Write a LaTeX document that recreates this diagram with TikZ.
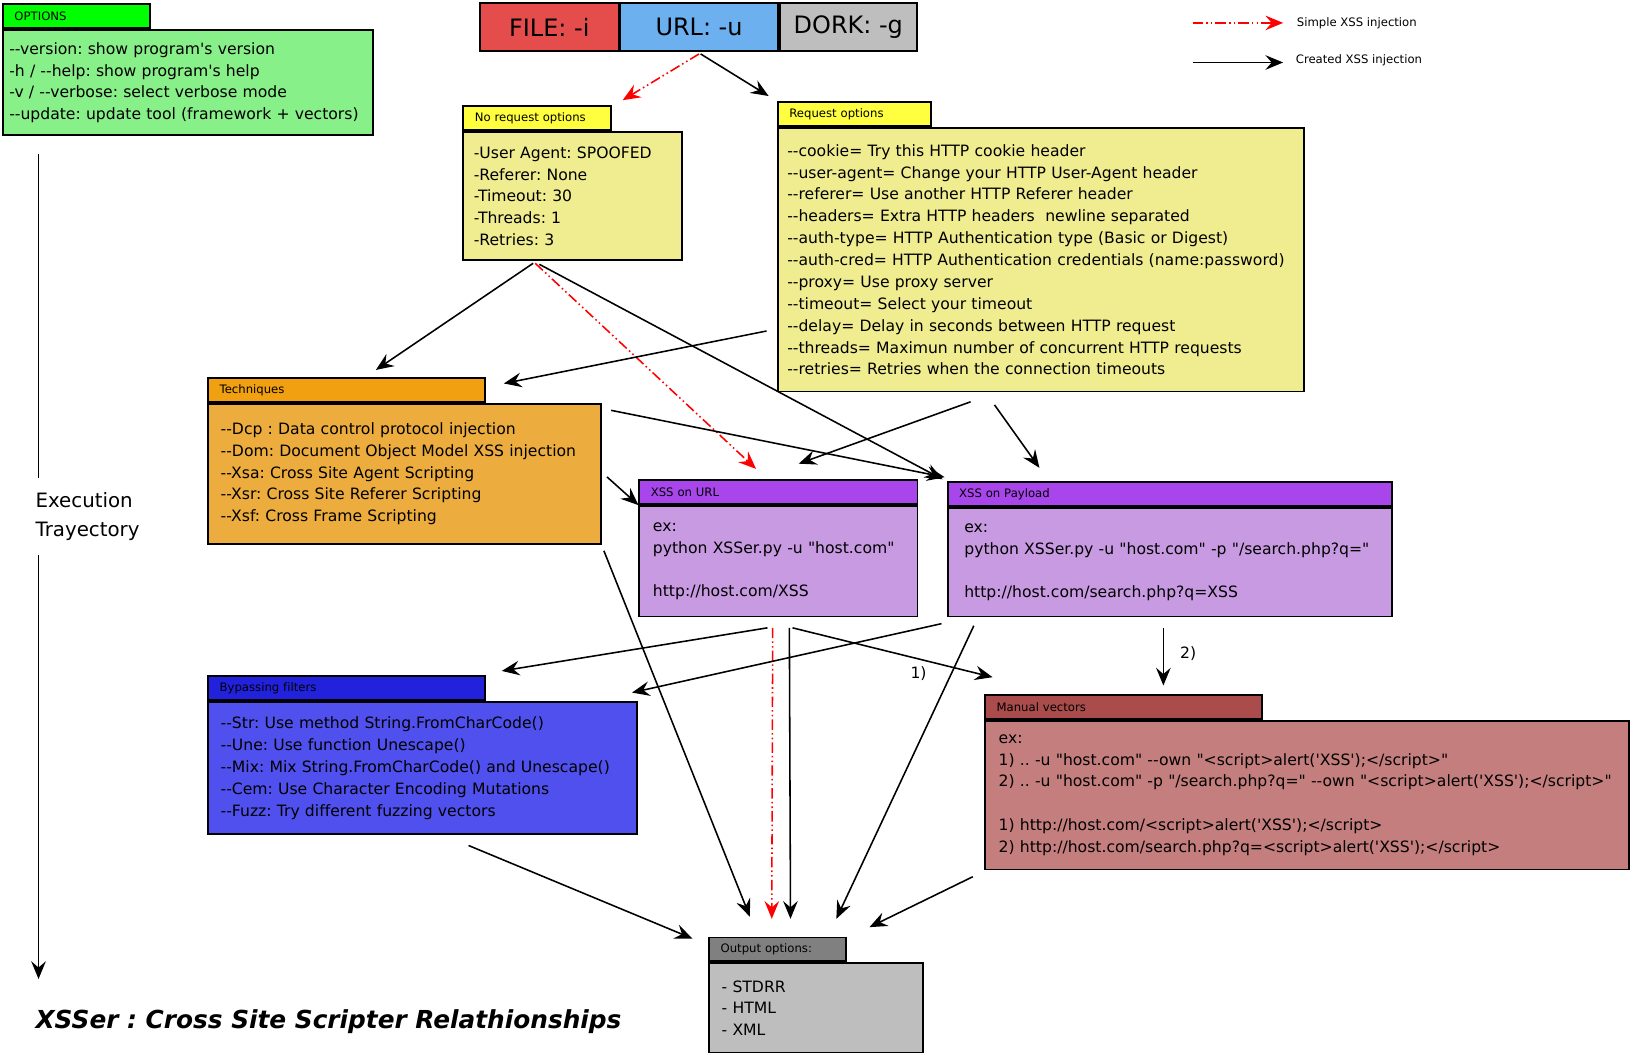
\documentclass[tikz,border=0pt]{standalone}
\usepackage{fontspec}
\newfontfamily\dejavu{DejaVu Sans}[Ligatures=NoCommon]
\usepackage{tikz}
\usetikzlibrary{arrows.meta, positioning}
\usepackage{xcolor}
\definecolor{optstab}{HTML}{00FF00}
\definecolor{optsbody}{HTML}{88F088}
\definecolor{filered}{HTML}{E54C4C}
\definecolor{urlblue}{HTML}{6CB0F0}
\definecolor{dorkgray}{HTML}{BEBEBE}
\definecolor{yeltab}{HTML}{FFFF40}
\definecolor{yelbody}{HTML}{F0EC90}
\definecolor{techtab}{HTML}{F0A010}
\definecolor{techbody}{HTML}{ECAD3E}
\definecolor{xsstab}{HTML}{A846EC}
\definecolor{xssbody}{HTML}{C89AE2}
\definecolor{bypasstab}{HTML}{2222DD}
\definecolor{bypassbody}{HTML}{5050EE}
\definecolor{mantab}{HTML}{AA4C4C}
\definecolor{manbody}{HTML}{C47E7E}
\definecolor{outtab}{HTML}{808080}
\definecolor{outbody}{HTML}{BEBEBE}
\frenchspacing

\begin{document}
\begin{tikzpicture}[x=1pt, y=-1pt,
    panel/.style={draw, line width=1.8pt, anchor=north west, align=left,
        inner ysep=0pt, font=\dejavu\fontsize{15}{21}\selectfont},
    tabbox/.style={draw, line width=1.8pt, anchor=south west, align=left,
        minimum height=23pt, inner ysep=0pt, inner xsep=11pt,
        font=\dejavu\fontsize{11.2}{13}\selectfont},
    topbox/.style={draw, line width=1.8pt, anchor=north west,
        minimum height=46pt, inner sep=0pt,
        font=\dejavu\fontsize{23}{26}\selectfont},
    flow/.style={line width=1.5pt, -{Stealth[length=17pt, width=14pt, inset=6pt]}},
    simple/.style={flow, red, dash pattern=on 10pt off 3pt on 1.5pt off 3pt on 1.5pt off 3pt},
    legend/.style={anchor=west, inner sep=0pt, font=\dejavu\fontsize{11.2}{13}\selectfont}]

    \useasboundingbox (0,0) rectangle (1566,1011);

    % options
    \node[panel, fill=optsbody, inner xsep=6pt, text width=343pt, minimum height=101pt] (opts) at (2,28)
        {--version: show program's version\\
         -h / --help: show program's help\\
         -v / --verbose: select verbose mode\\
         --update: update tool (framework + vectors)};
    \node[tabbox, fill=optstab, text width=119pt] (optstab) at (opts.north west) {OPTIONS};

    % targets
    \node[topbox, fill=filered, minimum width=133pt] (file) at (460,2) {FILE: -i};
    \node[topbox, fill=urlblue, minimum width=151pt] (url) at (file.north east) {URL: -u};
    \node[topbox, fill=dorkgray, minimum width=132pt] (dork) at (url.north east) {DORK: -g};

    % legend
    \node[legend] (simpletxt) at (1245,22) {Simple XSS injection};
    \node[legend] (createdtxt) at (1244,58) {Created XSS injection};
    \draw[simple] ([xshift=-100pt]simpletxt.west) -- ([xshift=-13pt]simpletxt.west);
    \draw[flow] ([xshift=-99pt,yshift=-2pt]createdtxt.west) -- ([xshift=-12pt,yshift=-2pt]createdtxt.west);

    % request options
    \node[panel, fill=yelbody, inner xsep=10pt, text width=190pt, minimum height=123pt] (noreq) at (444,126)
        {-User Agent: SPOOFED\\
         -Referer: None\\
         -Timeout: 30\\
         -Threads: 1\\
         -Retries: 3};
    \node[tabbox, fill=yeltab, text width=120pt] (noreqtab) at (noreq.north west) {No request options};

    \node[panel, fill=yelbody, inner xsep=9pt, text width=487pt, minimum height=253pt] (req) at (746,122)
        {--cookie= Try this HTTP cookie header\\
         --user-agent= Change your HTTP User-Agent header\\
         --referer= Use another HTTP Referer header\\
         --headers= Extra HTTP headers \ newline separated\\
         --auth-type= HTTP Authentication type (Basic or Digest)\\
         --auth-cred= HTTP Authentication credentials (name:password)\\
         --proxy= Use proxy server\\
         --timeout= Select your timeout\\
         --delay= Delay in seconds between HTTP request\\
         --threads= Maximun number of concurrent HTTP requests\\
         --retries= Retries when the connection timeouts};
    \node[tabbox, fill=yeltab, text width=125pt] (reqtab) at (req.north west) {Request options};

    % techniques
    \node[panel, fill=techbody, inner xsep=12pt, text width=353pt, minimum height=134pt] (tech) at (199,387)
        {--Dcp : Data control protocol injection\\
         --Dom: Document Object Model XSS injection\\
         --Xsa: Cross Site Agent Scripting\\
         --Xsr: Cross Site Referer Scripting\\
         --Xsf: Cross Frame Scripting};
    \node[tabbox, fill=techtab, text width=244pt] (techtab) at (tech.north west) {Techniques};

    % injection points
    \node[panel, fill=xssbody, inner xsep=13pt, text width=241pt, minimum height=106pt] (xurl) at (613,485)
        {ex:\\
         python XSSer.py -u "host.com"\\
         \mbox{}\\
         http://host.com/XSS};
    \node[tabbox, fill=xsstab, text width=245pt] (xurltab) at (xurl.north west) {XSS on URL};

    \node[panel, fill=xssbody, inner xsep=16pt, text width=395pt, minimum height=104pt] (xpay) at (909,487)
        {ex:\\
         python XSSer.py -u "host.com" -p "/search.php?q="\\
         \mbox{}\\
         http://host.com/search.php?q=XSS\\[6pt]};
    \node[tabbox, fill=xsstab, text width=405pt] (xpaytab) at (xpay.north west) {XSS on Payload};

    % bypassing
    \node[panel, fill=bypassbody, inner xsep=12pt, text width=388pt, minimum height=127pt] (bypass) at (199,673)
        {--Str: Use method String.FromCharCode()\\
         --Une: Use function Unescape()\\
         --Mix: Mix String.FromCharCode() and Unescape()\\
         --Cem: Use Character Encoding Mutations\\
         --Fuzz: Try different fuzzing vectors};
    \node[tabbox, fill=bypasstab, text width=244pt] (bypasstab) at (bypass.north west) {Bypassing filters};

    % manual vectors
    \node[panel, fill=manbody, inner xsep=13pt, text width=592pt, minimum height=143pt] (manual) at (945,691)
        {ex:\\
         1) .. -u "host.com" --own "<script>alert('XSS');</script>"\\
         2) .. -u "host.com" -p "/search.php?q=" --own "<script>alert('XSS');</script>"\\
         \mbox{}\\
         1) http://host.com/<script>alert('XSS');</script>\\
         2) http://host.com/search.php?q=<script>alert('XSS');</script>};
    \node[tabbox, fill=mantab, text width=244pt] (mantab) at (manual.north west) {Manual vectors};

    % output
    \node[panel, fill=outbody, inner xsep=12pt, text width=181pt, minimum height=86pt] (output) at (680,924)
        {- STDRR\\
         - HTML\\
         - XML};
    \node[tabbox, fill=outtab, text width=109pt] (outtab) at (output.north west) {Output options:};

    % trajectory
    \node[anchor=west, align=left, inner sep=0pt, minimum height=74pt,
        font=\dejavu\fontsize{19}{27}\selectfont] (exec) at (34,496) {Execution\\Trayectory};
    \coordinate (trajtop) at (37,148);
    \coordinate (trajend) at (37,940);
    \draw[line width=1.5pt] (trajtop) -- (trajtop |- exec.north);
    \draw[flow] (trajtop |- exec.south) -- (trajend);

    \node[anchor=west, inner sep=0pt, font=\dejavu\bfseries\itshape\fontsize{23.8}{28}\selectfont] (title) at (34,981)
        {XSSer : Cross Site Scripter Relathionships};

    % connectors
    \draw[simple] ([yshift=-2pt]url.south) -- ([xshift=10pt,yshift=5pt]noreqtab.north east);
    \draw[flow] ([xshift=1.5pt,yshift=-2pt]url.south) -- ([xshift=-8pt,yshift=5pt]reqtab.north west);

    \draw[flow] ([xshift=-38pt,yshift=-2pt]noreq.south) -- ([xshift=28pt,yshift=7pt]techtab.north);
    \draw[flow] ([xshift=-32pt,yshift=-3pt]noreq.south) -- ([xshift=-4pt,yshift=2pt]xpaytab.north west);
    \draw[simple] ([xshift=-36pt,yshift=-2pt]noreq.south) -- ([xshift=-21.5pt,yshift=10pt]xurltab.north);

    \draw[flow] ([xshift=-10pt,yshift=59pt]req.south west) -- ([xshift=17pt,yshift=-6pt]techtab.north east);
    \draw[flow] ([xshift=-67.5pt,yshift=-9pt]req.south) -- ([xshift=19.5pt,yshift=15pt]xurltab.north);
    \draw[flow] ([xshift=-44.5pt,yshift=-12pt]req.south) -- ([xshift=89pt,yshift=13pt]xpaytab.north west);

    \draw[flow] ([xshift=9pt,yshift=-7pt]tech.north east) -- ([xshift=-2pt,yshift=4pt]xpaytab.north west);
    \draw[flow] ([xshift=5pt,yshift=-3pt]tech.east) -- (xurltab.south west);
    \draw[flow] ([xshift=2pt,yshift=-6pt]tech.south east) -- ([xshift=40pt,yshift=19pt]outtab.north west);

    \draw[flow] ([xshift=-10.5pt,yshift=-10pt]xurl.south) -- ([xshift=15pt,yshift=4pt]bypasstab.north east);
    \draw[simple] ([xshift=-5.5pt,yshift=-10pt]xurl.south) -- ([xshift=61pt,yshift=17pt]outtab.north west);
    \draw[flow] ([xshift=10.5pt,yshift=-10pt]xurl.south) -- ([xshift=79pt,yshift=17pt]outtab.north west);
    \draw[flow] ([xshift=13.5pt,yshift=-10pt]xurl.south) -- node[pos=0.63, below=3pt, font=\dejavu\fontsize{15}{18}\selectfont] (lblone) {1)}
        ([xshift=8pt,yshift=16pt]mantab.north west);

    \draw[flow] ([xshift=-5pt,yshift=-6pt]xpay.south west) -- ([xshift=-6pt,yshift=8pt]bypass.north east);
    \draw[flow] ([xshift=26pt,yshift=-8pt]xpay.south west) -- ([xshift=123pt,yshift=17pt]outtab.north west);
    \draw[flow] ([xshift=208pt,yshift=-10pt]xpay.south west) -- node[pos=0.44, right=12pt, font=\dejavu\fontsize{15}{18}\selectfont] (lbltwo) {2)}
        ([xshift=172pt,yshift=8pt]mantab.north west);

    \draw[flow] ([xshift=44pt,yshift=-10pt]bypass.south) -- ([xshift=-15pt,yshift=-2pt]outtab.north west);
    \draw[flow] ([xshift=-11pt,yshift=-6pt]manual.south west) -- ([xshift=22pt,yshift=9pt]outtab.north east);

\end{tikzpicture}
\end{document}
